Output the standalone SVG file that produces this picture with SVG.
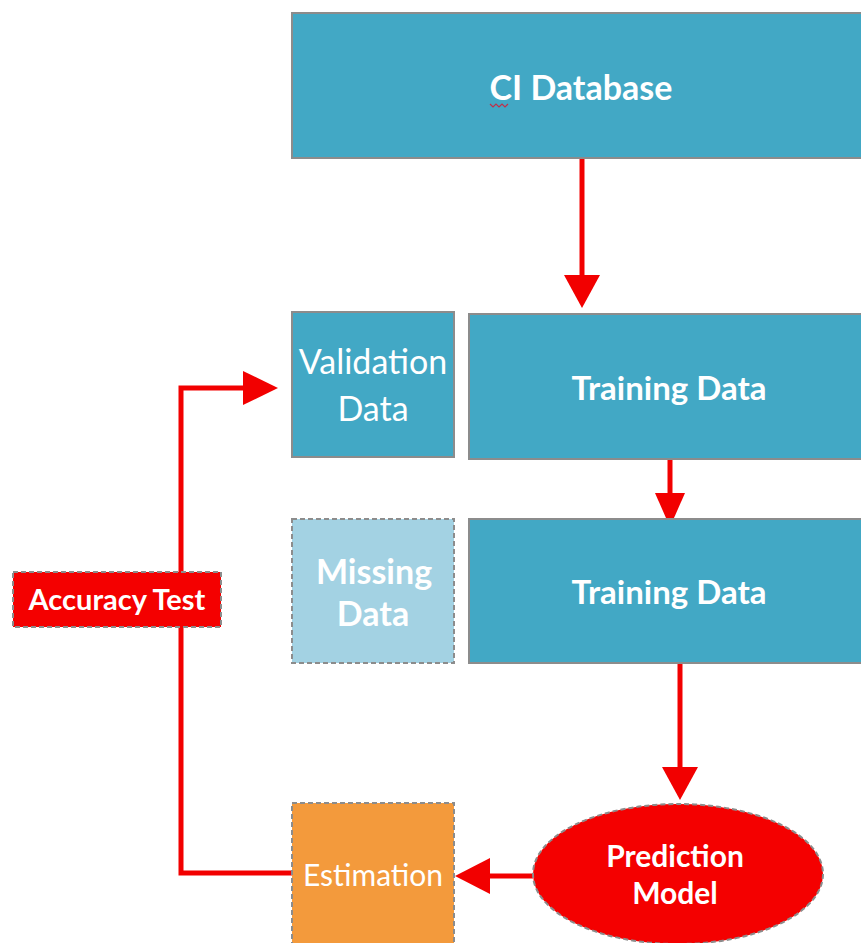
<svg xmlns="http://www.w3.org/2000/svg" width="861" height="943" viewBox="0 0 861 943">
  <defs>
    <style>
      .box { fill: #42A8C5; stroke: #8C8C8C; stroke-width: 2; }
      .dash { stroke: #8C8C8C; stroke-width: 2; stroke-dasharray: 5 3; }
      .lbl { font-family: Lato, "Open Sans", "Liberation Sans", sans-serif; fill: #FFFFFF; text-anchor: middle; }
      .b { font-weight: 700; }
      .wire { fill: none; stroke: #F20000; stroke-width: 5; }
      .head { fill: #F20000; }
    </style>
  </defs>

  <rect width="861" height="943" fill="#FFFFFF"/>

  <!-- connectors -->
  <g id="connectors">
    <line class="wire" x1="582" y1="158" x2="582" y2="280"/>
    <polygon class="head" points="564,275 600,275 582,308"/>

    <line class="wire" x1="670" y1="459" x2="670" y2="498"/>
    <polygon class="head" points="655,493 685,493 670,527"/>

    <line class="wire" x1="680" y1="664" x2="680" y2="772"/>
    <polygon class="head" points="662,767 698,767 680,800"/>

    <line class="wire" x1="533" y1="876" x2="485" y2="876"/>
    <polygon class="head" points="490,858 490,894 455,876"/>

    <polyline class="wire" stroke-width="4" points="292,873 181,873 181,388 248,388"/>
    <polygon class="head" points="243,371 243,405 278,388"/>
  </g>

  <g id="ci-database">
    <rect class="box" x="292" y="13" width="575" height="145"/>
    <text class="lbl b" x="581" y="100" font-size="34">CI Database</text>
    <path d="M490,104 l3,3 l3,-3 l3,3 l3,-3 l3,3 l3,-3" fill="none" stroke="#C0304A" stroke-width="1.2"/>
  </g>

  <g id="validation-data">
    <rect class="box" x="292" y="312" width="162" height="145"/>
    <text class="lbl" x="373" y="374" font-size="34">Validation</text>
    <text class="lbl" x="373" y="421" font-size="34">Data</text>
  </g>

  <g id="training-data-1">
    <rect class="box" x="469" y="314" width="398" height="145"/>
    <text class="lbl b" x="669" y="400" font-size="33">Training Data</text>
  </g>

  <g id="missing-data">
    <rect class="dash" x="292" y="519" width="162" height="144" fill="#A3D2E3"/>
    <text class="lbl b" x="374" y="584" font-size="34">Missing</text>
    <text class="lbl b" x="373" y="626" font-size="34">Data</text>
  </g>

  <g id="training-data-2">
    <rect class="box" x="469" y="519" width="398" height="144"/>
    <text class="lbl b" x="669" y="604" font-size="33">Training Data</text>
  </g>

  <g id="prediction-model">
    <ellipse class="dash" cx="678" cy="874" rx="145" ry="70" fill="#F40000"/>
    <text class="lbl b" x="675" y="867" font-size="30">Prediction</text>
    <text class="lbl b" x="675" y="904" font-size="30">Model</text>
  </g>

  <g id="estimation">
    <rect class="dash" x="292" y="803" width="162" height="150" fill="#F39A3C"/>
    <text class="lbl" x="373" y="886" font-size="30">Estimation</text>
  </g>

  <g id="accuracy-test">
    <rect class="dash" x="13" y="572" width="208" height="55" fill="#F40000"/>
    <text class="lbl b" x="117" y="610" font-size="29">Accuracy Test</text>
  </g>
</svg>
